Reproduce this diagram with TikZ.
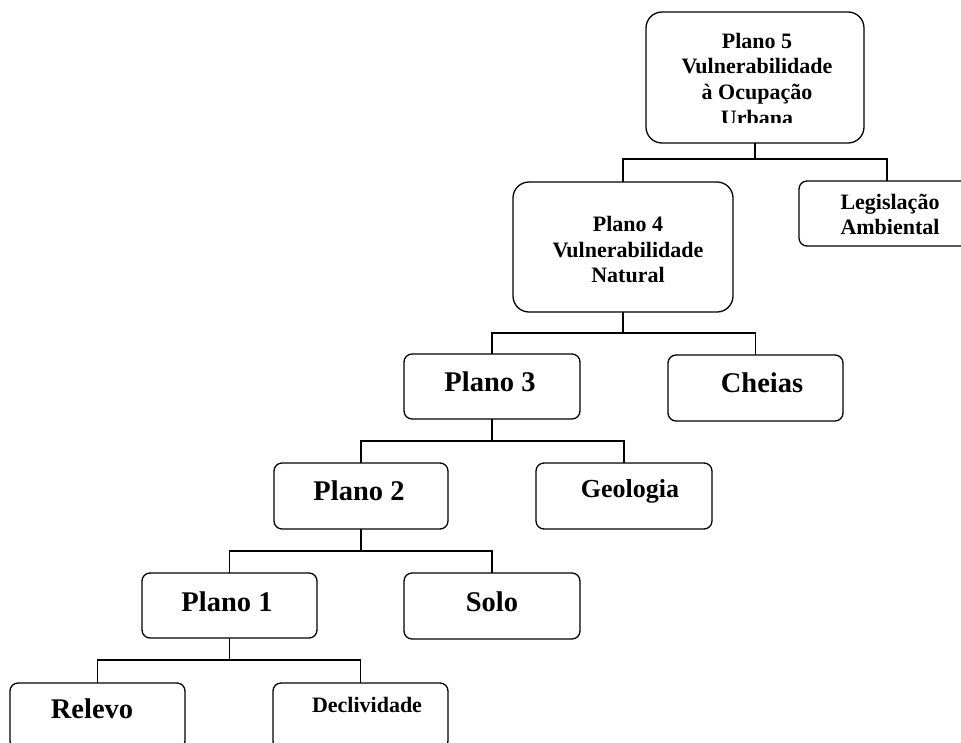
\documentclass[tikz,border=0pt]{standalone}
\usepackage{fontspec}
\setmainfont{Liberation Serif}
\tikzset{
  box/.style={draw=black, line width=1.3pt, rounded corners=8pt, inner sep=0pt, outer sep=0pt},
  bigbox/.style={box, rounded corners=16pt},
  conn/.style={draw=black, line width=1.3pt},
  tbig/.style={anchor=base, inner sep=0pt, font=\fontsize{28.5}{32}\selectfont\bfseries},
  tmid/.style={anchor=base, inner sep=0pt, font=\fontsize{26}{30}\selectfont\bfseries},
  tsmall/.style={anchor=base, inner sep=0pt, font=\fontsize{22}{26}\selectfont\bfseries},
}
\begin{document}
\begin{tikzpicture}[x=1pt, y=-1pt]
\clip (0,0) rectangle (961,742);
\fill[white] (0,0) rectangle (961,742);
% boxes
\node[bigbox, minimum width=218pt, minimum height=131pt] (p5) at (755,77.5) {};
\node[box, minimum width=176pt, minimum height=65pt] (leg) at (887,213.5) {};
\node[bigbox, minimum width=220pt, minimum height=130pt] (p4) at (623,247) {};
\node[box, minimum width=176pt, minimum height=65pt] (p3) at (492,386.5) {};
\node[box, minimum width=175pt, minimum height=66pt] (ch) at (755.5,388) {};
\node[box, minimum width=174pt, minimum height=66pt] (p2) at (361,496) {};
\node[box, minimum width=176pt, minimum height=66pt] (geo) at (624,496) {};
\node[box, minimum width=175pt, minimum height=65pt] (p1) at (229.5,605.5) {};
\node[box, minimum width=176pt, minimum height=66pt] (solo) at (492,606) {};
\node[box, minimum width=175pt, minimum height=66pt] (rel) at (97.5,716) {};
\node[box, minimum width=175pt, minimum height=66pt] (dec) at (360.5,716) {};
% junctions
\coordinate (j5) at (755,159);
\coordinate (j4) at (623,333);
\coordinate (j3) at (492,441);
\coordinate (j2) at (361,551);
\coordinate (j1) at (229.5,660);
\draw[conn] (p5.south) -- (j5) -| (p4.north);
\draw[conn] (j5) -| (leg.north);
\draw[conn] (p4.south) -- (j4) -| (p3.north);
\draw[conn] (j4) -| (ch.north);
\draw[conn] (p3.south) -- (j3) -| (p2.north);
\draw[conn] (j3) -| (geo.north);
\draw[conn] (p2.south) -- (j2) -| (p1.north);
\draw[conn] (j2) -| (solo.north);
\draw[conn] (p1.south) -- (j1) -| (rel.north);
\draw[conn] (j1) -| (dec.north);
% texts
\begin{scope}
\clip (600,0) rectangle (900,122.5);
\node[tsmall] (t5a) at (757,48) {Plano 5};
\node[tsmall] (t5b) at (757,73.5) {Vulnerabilidade};
\node[tsmall] (t5c) at (757,99) {à Ocupação};
\node[tsmall] (t5d) at (757,125) {Urbana};
\end{scope}
\node[tsmall] (tla) at (890,209) {Legislação};
\node[tsmall] (tlb) at (890,234) {Ambiental};
\node[tsmall] (t4a) at (628,231) {Plano 4};
\node[tsmall] (t4b) at (628,257) {Vulnerabilidade};
\node[tsmall] (t4c) at (628,282) {Natural};
\node[tbig] (t3) at (490,391) {Plano 3};
\node[tbig] (tch) at (762,392) {Cheias};
\node[tbig] (t2) at (359,500) {Plano 2};
\node[tmid] (tgeo) at (630,497) {Geologia};
\node[tbig] (t1) at (227,611) {Plano 1};
\node[tbig] (tsolo) at (492,611) {Solo};
\node[tbig] (trel) at (92,718) {Relevo};
\node[tsmall] (tdec) at (367,712) {Declividade};
\end{tikzpicture}
\end{document}
